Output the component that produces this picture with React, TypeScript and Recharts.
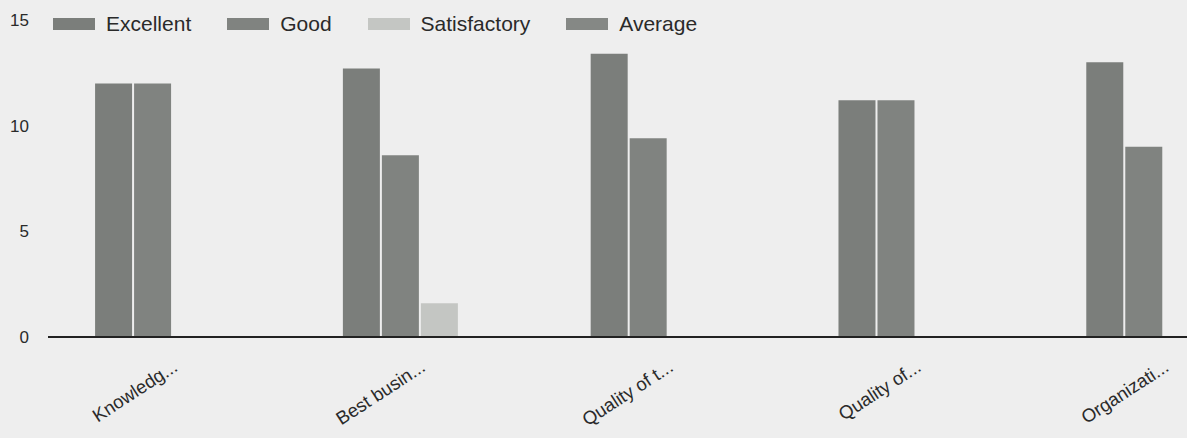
import { BarChart, Bar, XAxis, YAxis } from 'recharts'

// criteria on the x axis (already cut short as in the source)
const criteria = ['Knowledg...', 'Best busin...', 'Quality of t...', 'Quality of...', 'Organizati...']

// number of responses per rating
const excellent = [12, 12.7, 13.4, 11.2, 13]
const good = [12, 8.6, 9.4, 11.2, 9]
const satisfactory = [0, 1.6, 0, 0, 0]
const average = [0, 0, 0, 0, 0]

const yTicks = [0, 5, 10, 15]

const series = [
  { key: 'excellent', label: 'Excellent', color: '#7b7e7b' },
  { key: 'good', label: 'Good', color: '#808380' },
  { key: 'satisfactory', label: 'Satisfactory', color: '#c4c6c3' },
  { key: 'average', label: 'Average', color: '#858885' },
]

const data = criteria.map((name, i) => ({
  name,
  excellent: excellent[i],
  good: good[i],
  satisfactory: satisfactory[i],
  average: average[i],
}))

const font = '"Liberation Sans", Arial, sans-serif'

const AngledTick = (props: any) => {
  const { x, y, payload } = props
  const tx = x + 7
  const ty = y + 25
  return (
    <text x={tx} y={ty} transform={`rotate(-33, ${tx}, ${ty})`} textAnchor="end"
          fontSize={18.5} fill="#2a2a2a" fontFamily={font}>
      {payload.value}
    </text>
  )
}

export default function App() {
  return (
    <div style={{ position: 'absolute', left: 0, top: 0, width: 1187, height: 438, overflow: 'hidden', background: '#eeeeee', fontFamily: font }}>
      {/* legend sits on the same row as the top tick */}
      <div style={{ position: 'absolute', left: 53, top: 12, display: 'flex', alignItems: 'center', zIndex: 2 }}>
        {series.map(s => (
          <div key={s.key} style={{ display: 'flex', alignItems: 'center', marginRight: 36 }}>
            <span style={{ display: 'inline-block', width: 42, height: 12, background: s.color, marginRight: 11 }} />
            <span style={{ fontSize: 21, color: '#2a2a2a' }}>{s.label}</span>
          </div>
        ))}
      </div>

      <BarChart width={1295} height={438} data={data} barCategoryGap="19%" barGap={2}
                margin={{ top: 20, right: 8, left: 0, bottom: 0 }}>
        <YAxis domain={[0, 15]} ticks={yTicks} width={48} axisLine={false} tickLine={false}
               tickSize={0} tickMargin={19}
               tick={{ fontSize: 17, fill: '#2a2a2a', fontFamily: font }} />
        <XAxis dataKey="name" height={101} interval={0} tickLine={false}
               axisLine={{ stroke: '#222', strokeWidth: 2 }} tick={<AngledTick />} />
        {series.map(s => (
          <Bar key={s.key} dataKey={s.key} name={s.label} fill={s.color} isAnimationActive={false} />
        ))}
      </BarChart>
    </div>
  )
}
